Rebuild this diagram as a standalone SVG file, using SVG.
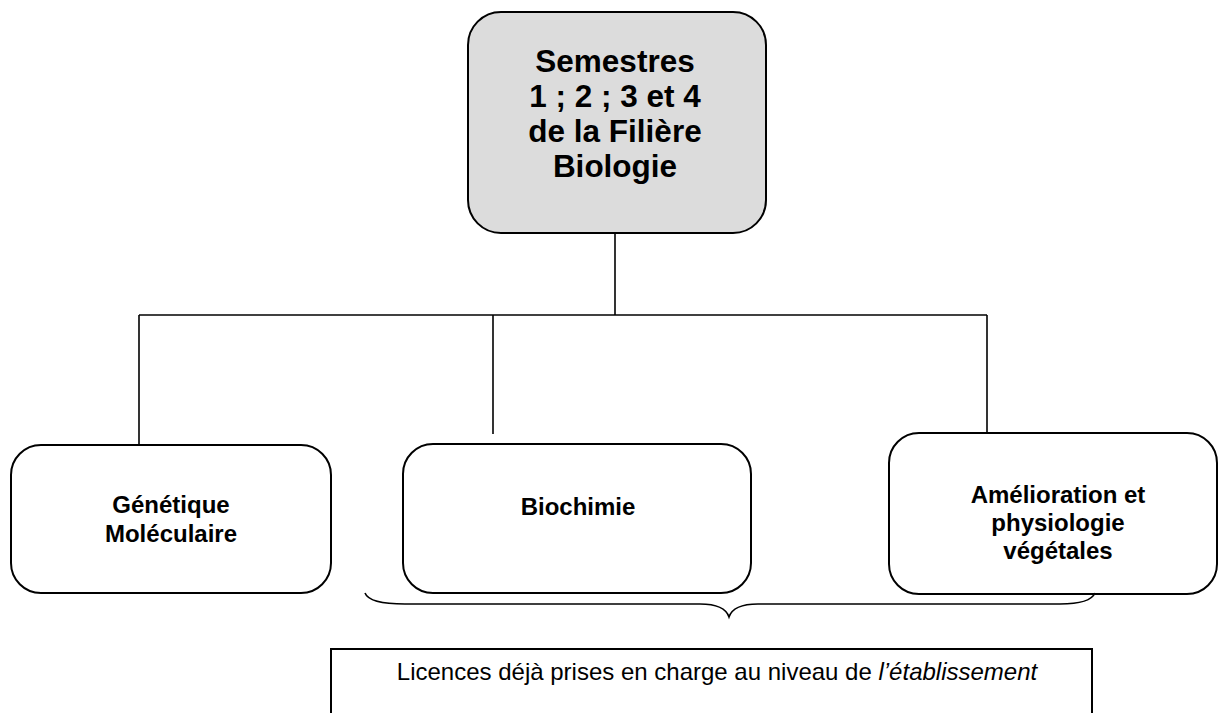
<svg xmlns="http://www.w3.org/2000/svg" width="1219" height="713" viewBox="0 0 1219 713">
<style>
.box{fill:#ffffff;stroke:#000;stroke-width:2}
.top{fill:#dcdcdc;stroke:#000;stroke-width:2}
.conn{fill:none;stroke:#000;stroke-width:1.6}
.b{font-family:"Liberation Sans",Arial,sans-serif;font-weight:bold;fill:#000;text-anchor:middle}
.r{font-family:"Liberation Sans",Arial,sans-serif;fill:#000;text-anchor:middle}
</style>
<rect width="1219" height="713" fill="#fff"/>
<g id="connectors">
<line class="conn" x1="615" y1="233" x2="615" y2="315"/>
<line class="conn" x1="139" y1="315" x2="987" y2="315"/>
<line class="conn" x1="139" y1="315" x2="139" y2="445"/>
<line class="conn" x1="493" y1="315" x2="493" y2="434"/>
<line class="conn" x1="987" y1="315" x2="987" y2="433"/>
</g>
<g id="node-top">
<rect class="top" x="468" y="12" width="298" height="221" rx="33"/>
<text class="b" font-size="31.5"><tspan x="615" y="72">Semestres</tspan><tspan x="615" y="107">1 ; 2 ; 3 et 4</tspan><tspan x="615" y="142">de la Filière</tspan><tspan x="615" y="177">Biologie</tspan></text>
</g>
<g id="node-genetique">
<rect class="box" x="11" y="445" width="320" height="148" rx="30"/>
<text class="b" font-size="24"><tspan x="171" y="513">Génétique</tspan><tspan x="171" y="542">Moléculaire</tspan></text>
</g>
<g id="node-biochimie">
<rect class="box" x="403" y="444" width="348" height="149" rx="30"/>
<text class="b" font-size="24" x="578" y="515">Biochimie</text>
</g>
<g id="node-amelioration">
<rect class="box" x="889" y="433" width="328" height="161" rx="30"/>
<text class="b" font-size="24"><tspan x="1058" y="503">Amélioration et</tspan><tspan x="1058" y="531">physiologie</tspan><tspan x="1058" y="559">végétales</tspan></text>
</g>
<g id="brace">
<path class="conn" d="M365,593 C368,601 385,604 405,604 L700,604 C716,604 726,608 729,617 C732,608 742,604 758,604 L1060,604 C1080,604 1092,600 1095,593"/>
</g>
<g id="node-licences">
<rect class="box" x="331" y="649" width="761" height="80"/>
<text class="r" font-size="24" x="717" y="680">Licences déjà prises en charge au niveau de <tspan font-style="italic">l’établissement</tspan></text>
</g>
</svg>
